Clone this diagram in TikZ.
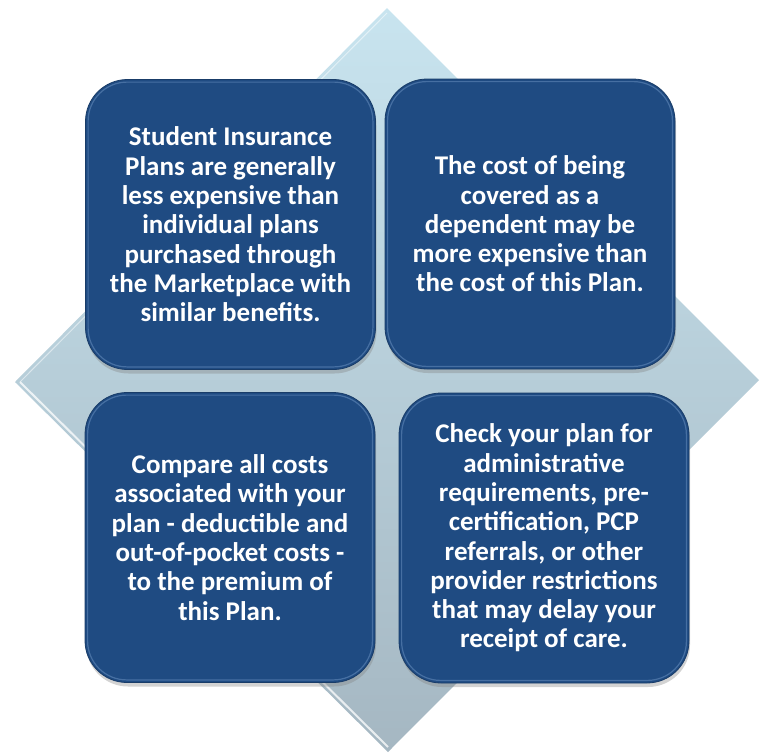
\documentclass[tikz,border=0pt]{standalone}
\usepackage{fontspec}
\setmainfont{Carlito}
\usetikzlibrary{shadows}
\definecolor{boxblue}{HTML}{1F4B82}
\definecolor{dtop}{HTML}{C8E4EF}
\definecolor{dbot}{HTML}{A5B7C2}
\definecolor{rim}{HTML}{8FB4E0}
\begin{document}
\begin{tikzpicture}[x=1pt,y=-1pt,
  card/.style={rounded corners=42pt, fill=boxblue, draw=boxblue!80!black, line width=0.8pt,
    text=white, align=center, inner sep=0pt,
    minimum width=290pt, minimum height=290pt,
    font=\bfseries\fontsize{27}{29.3}\selectfont,
    drop shadow={opacity=0.35, shadow xshift=1pt, shadow yshift=-4pt}},
  gloss/.style={draw=rim, line width=1.2pt, opacity=0.35, rounded corners=39pt}]
\useasboundingbox (0,0) rectangle (764,753);
% background diamond
\coordinate (dt) at (387,8);
\coordinate (dr) at (759,380);
\coordinate (db) at (388,752);
\coordinate (dl) at (15,382);
\shade[top color=dtop, bottom color=dbot] (dt) -- (dr) -- (db) -- (dl) -- cycle;
\draw[white, line width=2pt, opacity=0.75] ([shift={(5pt,0pt)}]dl) -- ([shift={(0pt,5pt)}]db);
\draw[white, line width=1pt, opacity=0.5] ([shift={(5pt,0pt)}]dl) -- ([shift={(0pt,-5pt)}]dt);
% cards
\node[card] (tl) at (230.5,224.5) {Student Insurance\\Plans are generally\\less expensive than\\individual plans\\purchased through\\the Marketplace with\\similar benefits.};
\node[card] (tr) at (530,224) {The cost of being\\covered as a\\dependent may be\\more expensive than\\the cost of this Plan.};
\node[card] (bl) at (230,537.5) {Compare all costs\\associated with your\\plan - deductible and\\out-of-pocket costs -\\to the premium of\\this Plan.};
\node[card] (br) at (544,538) {Check your plan for\\administrative\\requirements, pre-\\certification, PCP\\referrals, or other\\provider restrictions\\that may delay your\\receipt of care.};
% inner gloss rims
\foreach \n in {tl,tr,bl,br}{
  \draw[gloss] ([shift={(3pt,-3pt)}]\n.north west) rectangle ([shift={(-3pt,3pt)}]\n.south east);
}
\end{tikzpicture}
\end{document}
